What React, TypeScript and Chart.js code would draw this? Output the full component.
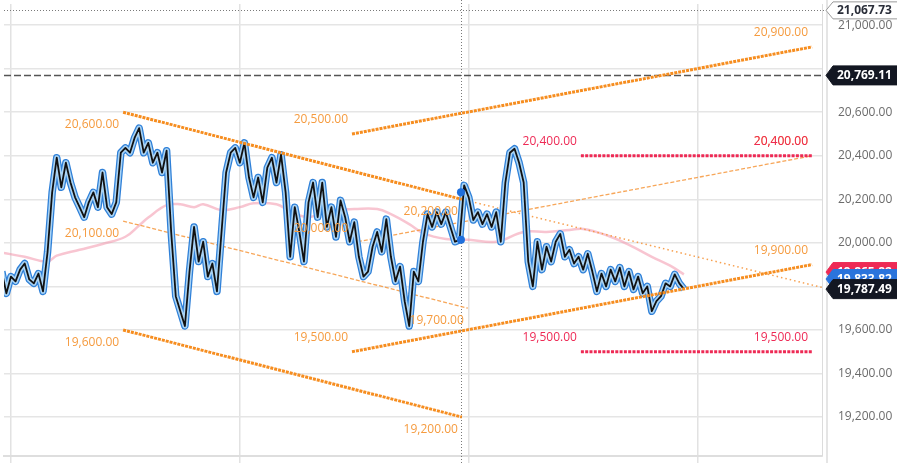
import React, { useEffect, useRef } from 'react';
import { Chart, registerables } from 'chart.js';
Chart.register(...registerables);

const FONT = '"Open Sans", "Noto Sans", "DejaVu Sans", sans-serif';

// ---- price series (one value per bar, first bar index below) ----
const priceFirstBar = -2;
const priceValues = [
  19868, 19768, 19845, 19823, 19877, 19905, 19832, 19814, 19859, 19777,
  19959, 20232, 20391, 20255, 20368, 20277, 20209, 20164, 20118, 20186,
  20232, 20164, 20323, 20164, 20132, 20186, 20414, 20436, 20414, 20482,
  20527, 20414, 20459, 20368, 20414, 20323, 20423, 20050, 19755, 19686,
  19618, 19868, 20073, 19914, 20005, 19845, 19905, 19777, 20050, 20323,
  20414, 20436, 20368, 20459, 20300, 20209, 20300, 20186, 20345, 20391,
  20277, 20405, 20232, 19936, 20164, 20050, 19914, 20186, 20277, 20118,
  20277, 20073, 20164, 20027, 20195, 20118, 20005, 20095, 19936, 19845,
  19868, 19982, 20050, 19959, 20109, 19936, 19823, 19891, 19732, 19618,
  19868, 19823, 20005, 20132, 20073, 20141, 20086, 20141, 20073, 20005,
  20014, 20264, 20209, 20105, 20141, 20086, 20132, 20073, 20141, 20005,
  20277, 20414, 20432, 20368, 20277, 19914, 19800, 20005, 19877, 19982,
  19914, 20005, 20041, 19936, 19968, 19905, 19936, 19877, 19950, 19868,
  19777, 19859, 19800, 19877, 19823, 19886, 19800, 19868, 19786, 19845,
  19768, 19800, 19686, 19732, 19755, 19814, 19800, 19855, 19814, 19787.49,
];

// ---- moving average ----
const maBars = [-2, 3, 8, 10, 15, 20, 25, 28, 30, 34, 37, 40, 42, 46, 50, 53, 58, 61, 65, 70, 75, 80, 83, 87, 90, 95, 100, 106, 112, 117, 122, 125, 130, 135, 140, 144, 147];
const maValues = [19955, 19936, 19914, 19941, 19968, 19995, 20028, 20080, 20116, 20173, 20177, 20164, 20177, 20150, 20164, 20182, 20177, 20145, 20118, 20150, 20155, 20155, 20132, 20086, 20045, 20018, 20014, 20005, 20050, 20050, 20059, 20064, 20036, 19991, 19936, 19895, 19855];

// ---- drawn trend lines ----
const lineNames = ['chanTop', 'chanMid', 'chanBot', 'riseTop', 'riseMid', 'riseBot', 'resist', 'support'];
const lineKinds = ['thick', 'thin', 'thick', 'thick', 'thin', 'thick', 'red', 'red'];
const lineStartBar = [24.5, 24.5, 24.5, 74.5, 74.5, 74.5, 124.5, 124.5];
const lineEndBar = [98.5, 99.8, 98.5, 175, 175, 175, 175, 175];
const lineStartValue = [20600, 20100, 19600, 20500, 20000, 19500, 20400, 19500];
const lineEndValue = [20200, 19700, 19200, 20900, 20400, 19900, 20400, 19500];
const labelSides = ['below', 'below', 'below', 'above', 'above', 'above', 'above', 'above'];

// extension ray of the channel top
const rayBars = [98.5, 177.2];
const rayValues = [20200, 19795];

// horizontal dashed high line, crosshair and marker dots
const highValue = 20769.11;
const crossBar = 98.3;
const crossValue = 21067.73;
const dotBars = [98.3, 98.3];
const dotValues = [20232, 20014];

// right-axis price tags
const tagValues = [21067.73, 20769.11, 19865.82, 19833.82, 19787.49];
const tagKinds = ['outline', 'black', 'red', 'blue', 'black'];

// axis setup
const xMin = -1.52;
const xMax = 177.17;
const xGridBars = [0, 50, 100, 150];
const yMin = 19021;
const yMax = 21097;
const yTicks = [19200, 19400, 19600, 19800, 20000, 20200, 20400, 20600, 20800, 21000];

const fmt = (v: number) =>
  v.toLocaleString('en-US', { minimumFractionDigits: 2, maximumFractionDigits: 2 });

const ORANGE = '#f68d1f';
const ORANGE_TEXT = '#f59b3f';
const RED = '#ee2a55';

export default function App() {
  const ref = useRef<HTMLCanvasElement>(null);

  useEffect(() => {
    const canvas = ref.current!;
    const base = {
      pointRadius: 0,
      pointHoverRadius: 0,
      fill: false,
      tension: 0,
      borderJoinStyle: 'round' as const,
    };
    const pricePts = priceValues.map((v, i) => ({ x: priceFirstBar + i, y: v }));
    const maPts = maBars.map((b, i) => ({ x: b, y: maValues[i] }));

    const styles: any = {
      thick: { color: ORANGE, width: 3, dash: [3, 1], order: 4 },
      thin: { color: 'rgba(246,150,60,0.85)', width: 1.3, dash: [4, 2], order: 8 },
      red: { color: RED, width: 3, dash: [3, 1.3], order: 3 },
    };

    const trendSets = lineNames.map((n, i) => {
      const s = styles[lineKinds[i]];
      return {
        ...base,
        label: n,
        data: [
          { x: lineStartBar[i], y: lineStartValue[i] },
          { x: lineEndBar[i], y: lineEndValue[i] },
        ],
        borderColor: s.color,
        borderWidth: s.width,
        borderDash: s.dash,
        order: s.order,
      };
    });

    const overlay = {
      id: 'overlay',
      beforeDatasetsDraw(chart: any) {
        const { ctx, chartArea, scales } = chart;
        const x = scales.x, y = scales.y;
        ctx.save();
        ctx.strokeStyle = '#dcdcdc';
        ctx.lineWidth = 1.5;
        ctx.beginPath();
        ctx.moveTo(chartArea.right + 5, 0);
        ctx.lineTo(chartArea.right + 5, chart.height);
        ctx.stroke();
        ctx.strokeStyle = '#7a7a7a';
        ctx.lineWidth = 1;
        ctx.setLineDash([1, 2]);
        const cy = Math.round(y.getPixelForValue(crossValue)) + 0.5;
        ctx.beginPath();
        ctx.moveTo(chartArea.left, cy);
        ctx.lineTo(chartArea.right + 5, cy);
        ctx.stroke();
        const cx = Math.round(x.getPixelForValue(crossBar)) + 0.5;
        ctx.beginPath();
        ctx.moveTo(cx, 0);
        ctx.lineTo(cx, chart.height);
        ctx.stroke();
        ctx.restore();
      },
      afterDatasetsDraw(chart: any) {
        const { ctx, scales } = chart;
        const x = scales.x, y = scales.y;
        ctx.save();
        ctx.font = `12px ${FONT}`;
        ctx.textAlign = 'right';
        ctx.textBaseline = 'middle';
        const order = [1, 4, 0, 2, 3, 5, 6, 7];
        order.forEach((i) => {
          ctx.fillStyle = lineKinds[i] === 'red' ? RED : ORANGE_TEXT;
          const dy = labelSides[i] === 'below' ? 12.5 : -14;
          ctx.fillText(fmt(lineStartValue[i]), x.getPixelForValue(lineStartBar[i]) - 4, y.getPixelForValue(lineStartValue[i]) + dy);
          ctx.fillText(fmt(lineEndValue[i]), x.getPixelForValue(lineEndBar[i]) - 4, y.getPixelForValue(lineEndValue[i]) + dy);
        });
        ctx.restore();
      },
      afterDraw(chart: any) {
        const { ctx, chartArea, scales } = chart;
        const y = scales.y;
        ctx.save();
        const x0 = chartArea.right + 4;
        const right = chart.width + 2;
        tagValues.forEach((v, i) => {
          const yc = y.getPixelForValue(v);
          const kind = tagKinds[i];
          const h = kind === 'outline' ? 17 : 19;
          let fill = '#131722', stroke = '#131722', text = '#ffffff';
          if (kind === 'outline') { fill = '#ffffff'; stroke = '#9a9a9a'; text = '#2a2e39'; }
          if (kind === 'red') { fill = RED; stroke = RED; }
          if (kind === 'blue') { fill = '#2a74dc'; stroke = '#2a74dc'; }
          ctx.beginPath();
          ctx.moveTo(x0, yc);
          ctx.lineTo(x0 + 7, yc - h / 2);
          ctx.lineTo(right, yc - h / 2);
          ctx.lineTo(right, yc + h / 2);
          ctx.lineTo(x0 + 7, yc + h / 2);
          ctx.closePath();
          ctx.fillStyle = fill;
          ctx.fill();
          ctx.lineWidth = 1;
          ctx.strokeStyle = stroke;
          ctx.stroke();
          ctx.fillStyle = text;
          ctx.font = `bold 12px ${FONT}`;
          ctx.textAlign = 'left';
          ctx.textBaseline = 'middle';
          ctx.fillText(fmt(v), x0 + 11, yc + 0.5);
        });
        ctx.restore();
      },
    };

    // hide axis labels that collide with the filled price tags
    const hiddenNear = (v: number) =>
      tagValues.some((t, i) => tagKinds[i] === 'black' && Math.abs(t - v) < 60);

    const chart = new Chart(canvas, {
      type: 'line',
      data: {
        datasets: [
          { ...base, label: 'ma', data: maPts, borderColor: 'rgba(242,150,172,0.55)', borderWidth: 2.5, tension: 0.4, order: 10 },
          { ...base, label: 'high', data: [{ x: xMin, y: highValue }, { x: xMax, y: highValue }], borderColor: '#555555', borderWidth: 1.5, borderDash: [7, 3], order: 9 },
          { ...base, label: 'ray', data: rayBars.map((b, i) => ({ x: b, y: rayValues[i] })), borderColor: 'rgba(246,150,60,0.9)', borderWidth: 1.5, borderDash: [1.5, 3], order: 8 },
          ...trendSets,
          { ...base, label: 'priceOuter', data: pricePts, borderColor: '#2f80d8', borderWidth: 7.5, order: 7 },
          { ...base, label: 'priceInner', data: pricePts, borderColor: '#a9d3f4', borderWidth: 5, order: 6 },
          { ...base, label: 'price', data: pricePts, borderColor: '#111111', borderWidth: 1.8, order: 5 },
          {
            label: 'dots', data: dotBars.map((b, i) => ({ x: b, y: dotValues[i] })), showLine: false,
            pointRadius: 4, pointBackgroundColor: '#1f6fdc', pointBorderWidth: 0, order: 1,
          },
        ] as any,
      },
      options: {
        animation: false,
        responsive: false,
        devicePixelRatio: 1,
        layout: { padding: 0 },
        plugins: { legend: { display: false }, tooltip: { enabled: false } },
        events: [],
        scales: {
          x: {
            type: 'linear',
            min: xMin,
            max: xMax,
            afterBuildTicks: (s: any) => { s.ticks = xGridBars.map((v) => ({ value: v })); },
            ticks: { display: false },
            grid: { color: '#e2e2e2', lineWidth: 1.5, drawTicks: true, tickLength: 7, tickColor: '#e2e2e2' },
            border: { display: true, color: '#dedede', width: 2 },
          },
          y: {
            type: 'linear',
            position: 'right',
            min: yMin,
            max: yMax,
            afterBuildTicks: (s: any) => { s.ticks = yTicks.map((v) => ({ value: v })); },
            afterFit: (s: any) => { s.width = 75; s.paddingTop = 0; s.paddingBottom = 0; },
            ticks: {
              color: '#6b6b6b',
              padding: 16,
              font: { family: FONT, size: 12 },
              callback: (v: any) => (hiddenNear(Number(v)) ? '' : fmt(Number(v))),
            },
            grid: { color: '#e5e5e5', lineWidth: 1.5, drawTicks: false },
            border: { display: true, color: '#dcdcdc', width: 1 },
          },
        },
      } as any,
      plugins: [overlay],
    });
    return () => chart.destroy();
  }, []);

  return (
    <div style={{ position: 'fixed', left: 0, top: 0, width: 897, height: 463, background: '#ffffff' }}>
      <canvas ref={ref} width={897} height={463} style={{ width: 897, height: 463, display: 'block' }} />
    </div>
  );
}
